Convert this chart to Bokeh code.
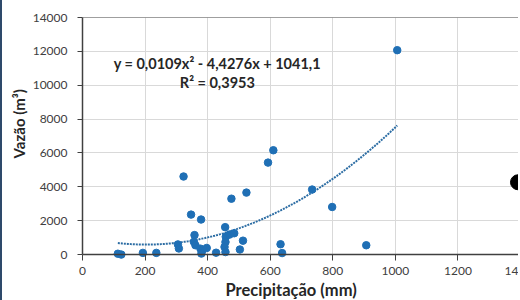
import numpy as np
from bokeh.plotting import figure
from bokeh.models import Span, Label, FixedTicker, Title, GlobalInlineStyleSheet
from bokeh.embed import file_html
from bokeh.resources import INLINE

# ---- data ----
precip = [113, 124, 193, 236, 305, 308, 323, 347, 379, 358, 356, 361, 377, 383, 380,
          397, 427, 456, 458, 470, 485, 457, 454, 457, 476, 513, 503, 524, 593, 610,
          734, 798, 633, 638, 907, 1006]
vazao = [50, 0, 100, 100, 600, 360, 4610, 2360, 2070, 1150, 750, 550, 350, 250, 60,
         390, 110, 1620, 1050, 1180, 1260, 740, 450, 150, 3300, 820, 300, 3660, 5430, 6160,
         3840, 2810, 610, 90, 550, 12070]
extra_x = [1392]
extra_y = [4270]
trend_coef = [0.0109, -4.4276, 1041.1]   # y = a x^2 + b x + c (shown on chart)
x_ticks = [0, 200, 400, 600, 800, 1000, 1200, 1400]
x_tick_labels = {1400: "14"}            # cut at the image edge in the reference
y_ticks = [0, 2000, 4000, 6000, 8000, 10000, 12000, 14000]
eq_text = "y = 0,0109x² - 4,4276x + 1041,1"
r2_text = "R² = 0,3953"
x_title = "Precipitação (mm)"
y_title = "Vazão (m³)"

FONT = "Lato"
AX = "#404040"
TXT = "#262626"
BLUE = "#1F6FB5"

p = figure(width=518, height=300, x_range=(0, 1400), y_range=(-350, 14000),
           output_backend="svg", toolbar_location=None,
           min_border_left=80, min_border_right=0, min_border_top=17, min_border_bottom=40)
p.stylesheets.append(GlobalInlineStyleSheet(css="body { margin: 0 !important; }"))
p.styles = {"border-left": "2px solid #2E4A6B"}
p.outline_line_color = None
p.background_fill_color = "white"
p.border_fill_color = "white"

# grids
p.xgrid.ticker = FixedTicker(ticks=x_ticks)
p.ygrid.ticker = FixedTicker(ticks=y_ticks)
p.xgrid.grid_line_color = "#D9D9D9"
p.ygrid.grid_line_color = "#D9D9D9"

# y axis
p.yaxis.ticker = FixedTicker(ticks=y_ticks)
p.yaxis.bounds = (0, 14000)
p.yaxis.axis_line_color = AX
p.yaxis.axis_line_width = 1.5
p.yaxis.major_tick_line_color = AX
p.yaxis.major_tick_out = 5
p.yaxis.major_tick_in = 0
p.yaxis.minor_tick_line_color = None
p.yaxis.major_label_standoff = 10
p.yaxis.major_label_text_font = FONT
p.yaxis.major_label_text_font_size = "12px"
p.yaxis.major_label_text_color = AX

# x axis
p.xaxis.ticker = FixedTicker(ticks=x_ticks)
p.xaxis.major_label_overrides = x_tick_labels
p.xaxis.axis_line_color = None
p.xaxis.major_tick_line_color = AX
p.xaxis.major_tick_in = 6
p.xaxis.major_tick_out = 0
p.xaxis.minor_tick_line_color = None
p.xaxis.major_label_standoff = 6
p.xaxis.major_label_text_font = FONT
p.xaxis.major_label_text_font_size = "12px"
p.xaxis.major_label_text_color = AX

# axis titles as side titles (offset lets them sit where the reference has them)
p.add_layout(Title(text=y_title, align="left", offset=102, text_font=FONT,
                   text_font_style="bold", text_font_size="15px", text_color=TXT,
                   standoff=4), "left")
p.add_layout(Title(text=x_title, align="left", offset=143, text_font=FONT,
                   text_font_style="bold", text_font_size="16.5px", text_color=TXT,
                   standoff=0), "below")

# borders / x axis line
p.add_layout(Span(location=0, dimension="width", line_color=AX, line_width=1.5))
p.add_layout(Span(location=14000, dimension="width", line_color=AX, line_width=1.2))
p.add_layout(Span(location=1400, dimension="height", line_color=AX, line_width=1.2))

# trendline from the displayed equation
xt = np.linspace(min(precip), max(precip), 200)
yt = np.polyval(trend_coef, xt)
p.line(xt, yt, line_color="#2B6CA3", line_width=2, line_dash="2 1")

# data points
p.scatter(precip, vazao, size=7.5, fill_color=BLUE, line_color=BLUE)
p.scatter(extra_x, extra_y, size=15, fill_color="black", line_color="black")

# equation texts
p.add_layout(Label(x=431, y=11285, text=eq_text, text_align="center", text_baseline="middle",
                   text_font=FONT, text_font_style="bold", text_font_size="14.5px", text_color=TXT))
p.add_layout(Label(x=431, y=10163, text=r2_text, text_align="center", text_baseline="middle",
                   text_font=FONT, text_font_style="bold", text_font_size="14.5px", text_color=TXT))

open("out.html", "w").write(file_html(p, INLINE))
